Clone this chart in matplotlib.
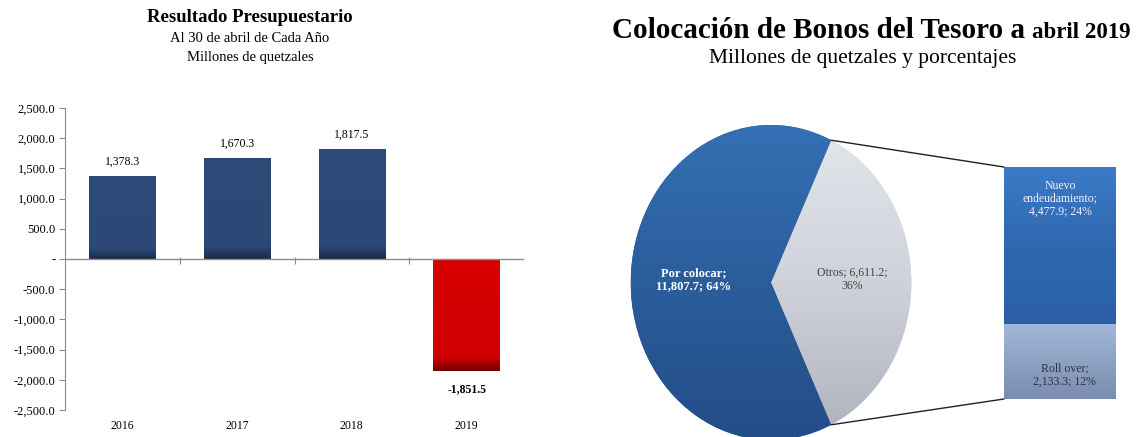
import numpy as np
import matplotlib
matplotlib.use('Agg')
import matplotlib.pyplot as plt
from matplotlib.colors import LinearSegmentedColormap
from matplotlib.patches import ConnectionPatch
from matplotlib.ticker import FuncFormatter

plt.rcParams['font.family'] = ['Liberation Serif', 'DejaVu Serif']

# resultado presupuestario, millones de quetzales
years = ['2016', '2017', '2018', '2019']
resultado = [1378.3, 1670.3, 1817.5, -1851.5]

# colocacion de bonos
pie_labels = ['Otros', 'Por colocar']
pie_values = [6611.2, 11807.7]
otros_labels = ['Roll over', 'Nuevo\nendeudamiento']
otros_values = [2133.3, 4477.9]

W, H = 1142, 437
fig = plt.figure(figsize=(W / 100, H / 100), dpi=100)
fig.patch.set_facecolor('white')


def px_axes(x0, y0, x1, y1):
    # pixel box (top-left origin) -> axes
    return fig.add_axes([x0 / W, (H - y1) / H, (x1 - x0) / W, (y1 - y0) / H])


def gradient(ax, patch, extent, colors, stops=None):
    if stops is None:
        stops = np.linspace(0, 1, len(colors))
    cmap = LinearSegmentedColormap.from_list('g', list(zip(stops, colors)))
    g = np.linspace(0, 1, 256).reshape(-1, 1)
    im = ax.imshow(g, extent=extent, origin='upper', cmap=cmap, aspect='auto',
                   zorder=patch.get_zorder() + 0.1, interpolation='bilinear')
    im.set_clip_path(patch)
    return im


# ---------------- left: bar chart ----------------
ax = px_axes(65, 108, 524, 410)
x = np.arange(len(years))
bars = ax.bar(x, resultado, width=0.58, linewidth=0, zorder=2)
ax.set_xlim(-0.5, len(years) - 0.5)
ax.set_ylim(-2500, 2500)

for b, v in zip(bars, resultado):
    if v >= 0:
        cols = ['#2d4b79', '#2b4876', '#1a2b47']
    else:
        cols = ['#d80000', '#d00000', '#700000']
    b.set_facecolor(cols[-1])
    y0, y1 = sorted([b.get_y(), b.get_y() + b.get_height()])
    gradient(ax, b, (b.get_x(), b.get_x() + b.get_width(), y0, y1), cols, [0, 0.88, 1])
    if v >= 0:
        ax.annotate(f'{v:,.1f}', (b.get_x() + b.get_width() / 2, v), xytext=(0, 6),
                    textcoords='offset points', ha='center', va='bottom', fontsize=8.5)
    else:
        ax.annotate(f'{v:,.1f}', (b.get_x() + b.get_width() / 2, v), xytext=(0, -9),
                    textcoords='offset points', ha='center', va='top', fontsize=8.5,
                    fontweight='bold')

ax.axhline(0, color='#8c8c8c', lw=1, zorder=3)
ax.vlines(x + 0.5, -90, 25, color='#8c8c8c', lw=0.8, zorder=3)

for s in ['top', 'right', 'bottom']:
    ax.spines[s].set_visible(False)
ax.spines['left'].set_color('#8c8c8c')
ax.set_yticks(np.arange(-2500, 2501, 500))
ax.yaxis.set_major_formatter(FuncFormatter(lambda v, p: '-' if v == 0 else f'{v:,.1f}'))
ax.tick_params(axis='y', length=4, color='#8c8c8c', labelsize=9, pad=3)
ax.set_xticks(x, years)
ax.tick_params(axis='x', length=0, labelsize=8.5, pad=7)
ax.set_facecolor('none')

fig.text(250 / W, 1 - 18 / H, 'Resultado Presupuestario', ha='center', va='center',
         fontsize=13.5, fontweight='bold')
fig.text(250 / W, 1 - 38 / H, 'Al 30 de abril de Cada Año', ha='center', va='center',
         fontsize=10.5)
fig.text(250 / W, 1 - 57 / H, 'Millones de quetzales', ha='center', va='center',
         fontsize=10.5)

# ---------------- right: pie + bar of pie ----------------
axp = px_axes(630, 125, 912, 440)
otros_frac = pie_values[0] / sum(pie_values)
start = -otros_frac * 180
wedges, _ = axp.pie(pie_values, startangle=start, counterclock=True, radius=1,
                    wedgeprops=dict(linewidth=0))
axp.set_aspect('auto')
wedges[0].set_facecolor('#c6c9d2')
wedges[1].set_facecolor('#2a5a98')
gradient(axp, wedges[0], (-1, 1, -1, 1), ['#e4e6ec', '#cfd2da', '#aeb2bc'])
gradient(axp, wedges[1], (-1, 1, -1, 1), ['#3470b4', '#2b5d9c', '#234d88'])
axp.set_xlim(-1.005, 1.005)
axp.set_ylim(-1.0, 1.0)
axp.axis('off')

por_pct = pie_values[1] / sum(pie_values) * 100
axp.text(-0.55, 0.02, f'{pie_labels[1]};\n{pie_values[1]:,.1f}; {por_pct:.0f}%', ha='center',
         va='center', color='white', fontsize=9, fontweight='bold', linespacing=1.1)
axp.text(0.58, 0.02, f'{pie_labels[0]}; {pie_values[0]:,.1f};\n{otros_frac * 100:.0f}%',
         ha='center', va='center', color='#404040', fontsize=8.5, linespacing=1.1)

axb = px_axes(1004, 167, 1116, 399)
total = sum(pie_values)
bottom = 0
box_cols = [['#a3b7da', '#8ea2c4', '#7a8db0'], ['#3b7bc8', '#3068b0', '#2b60a6']]
for lab, v, cols in zip(otros_labels, otros_values, box_cols):
    r = axb.bar(0, v, bottom=bottom, width=1, linewidth=0)[0]
    r.set_facecolor(cols[1])
    gradient(axb, r, (-0.5, 0.5, bottom, bottom + v), cols)
    pct = v / total * 100
    if bottom == 0:
        axb.text(0.04, bottom + v * 0.32, f'{lab};\n{v:,.1f}; {pct:.0f}%', ha='center',
                 va='center', color='#303040', fontsize=8.5, linespacing=1.1)
    else:
        axb.text(0, bottom + v - v * 0.08, f'{lab};\n{v:,.1f}; {pct:.0f}%', ha='center',
                 va='top', color='#eef2fa', fontsize=8.5, linespacing=1.1)
    bottom += v
axb.set_xlim(-0.5, 0.5)
axb.set_ylim(0, bottom)
axb.axis('off')

ang = np.deg2rad(otros_frac * 180)
for sgn, yb in [(1, bottom), (-1, 0)]:
    con = ConnectionPatch(xyA=(np.cos(ang), sgn * np.sin(ang)), coordsA=axp.transData,
                          xyB=(-0.5, yb), coordsB=axb.transData, color='#202020', lw=1)
    fig.add_artist(con)

# title with the smaller "abril 2019"
r = fig.canvas.get_renderer()
t1 = fig.text(0, 1 - 38 / H, 'Colocación de Bonos del Tesoro a ', ha='left', va='baseline',
              fontsize=21, fontweight='bold')
t2 = fig.text(0, 1 - 38 / H, 'abril 2019', ha='left', va='baseline', fontsize=16.5,
              fontweight='bold')
w1 = t1.get_window_extent(r).width
w2 = t2.get_window_extent(r).width
x0 = 871 - (w1 + w2) / 2
t1.set_x(x0 / W)
t2.set_x((x0 + w1) / W)
fig.text(863 / W, 1 - 59 / H, 'Millones de quetzales y porcentajes', ha='center', va='center',
         fontsize=15.5)

fig.savefig('out.png', dpi=100, facecolor='white')
